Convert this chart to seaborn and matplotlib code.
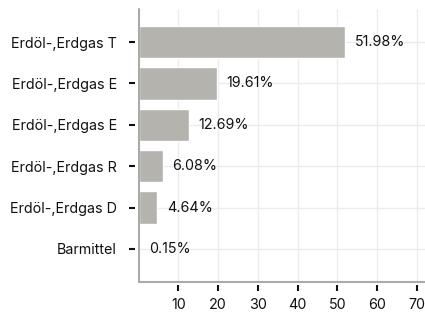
import matplotlib
matplotlib.use("Agg")
import matplotlib.pyplot as plt
import seaborn as sns
import pandas as pd

# chart data
categories = ["Erdöl-,Erdgas T", "Erdöl-,Erdgas E", "Erdöl-,Erdgas E", "Erdöl-,Erdgas R",
              "Erdöl-,Erdgas D", "Barmittel"]
shares = [51.98, 19.61, 12.69, 6.08, 4.64, 0.15]
x_ticks = [10, 20, 30, 40, 50, 60, 70]

# two categories share a name, so plot on a position key and relabel afterwards
df = pd.DataFrame({"pos": [str(i) for i in range(len(categories))], "Anteil": shares})

sns.set_theme(style="white")
plt.rcParams["font.family"] = ["Inter", "DejaVu Sans"]

fig = plt.figure(figsize=(4.25, 3.15), dpi=100)
ax = fig.add_axes([138.5 / 425, 1 - 282 / 315, 1 - 138.5 / 425, 273 / 315])

sns.barplot(data=df, x="Anteil", y="pos", color="#b4b3ae", saturation=1,
            width=0.78, ax=ax, zorder=2)

ax.bar_label(ax.containers[0], labels=[f"{v:.2f}%" for v in shares],
             padding=7, fontsize=10.3, color="#111111")

ax.set_xlim(0, 72)
ax.set_ylim(5.8, -0.8)
ax.set_xticks(x_ticks)
ax.set_yticks(range(len(categories)))
ax.set_yticklabels(categories)
ax.set_xlabel("")
ax.set_ylabel("")

# grid
ax.grid(True, axis="both", color="#ebebeb", linewidth=1.0, zorder=0)
ax.set_axisbelow(True)

# ticks detached from the axis lines
for side in ["left", "bottom"]:
    ax.spines[side].set_position(("outward", 2.5))
    ax.spines[side].set_visible(False)
for side in ["top", "right"]:
    ax.spines[side].set_visible(False)
ax.plot([0, 0], [0, 1], transform=ax.transAxes, color="#aaaaaa", linewidth=1.5,
        clip_on=False, zorder=3)
ax.plot([0, 1], [0, 0], transform=ax.transAxes, color="#aaaaaa", linewidth=1.5,
        clip_on=False, zorder=3)

ax.tick_params(axis="both", which="major", length=4, width=1.5, color="#111111",
               labelsize=10.3, labelcolor="#111111", bottom=True, left=True)
ax.tick_params(axis="y", pad=9)
ax.tick_params(axis="x", pad=5)

fig.savefig("out.png", dpi=100)
